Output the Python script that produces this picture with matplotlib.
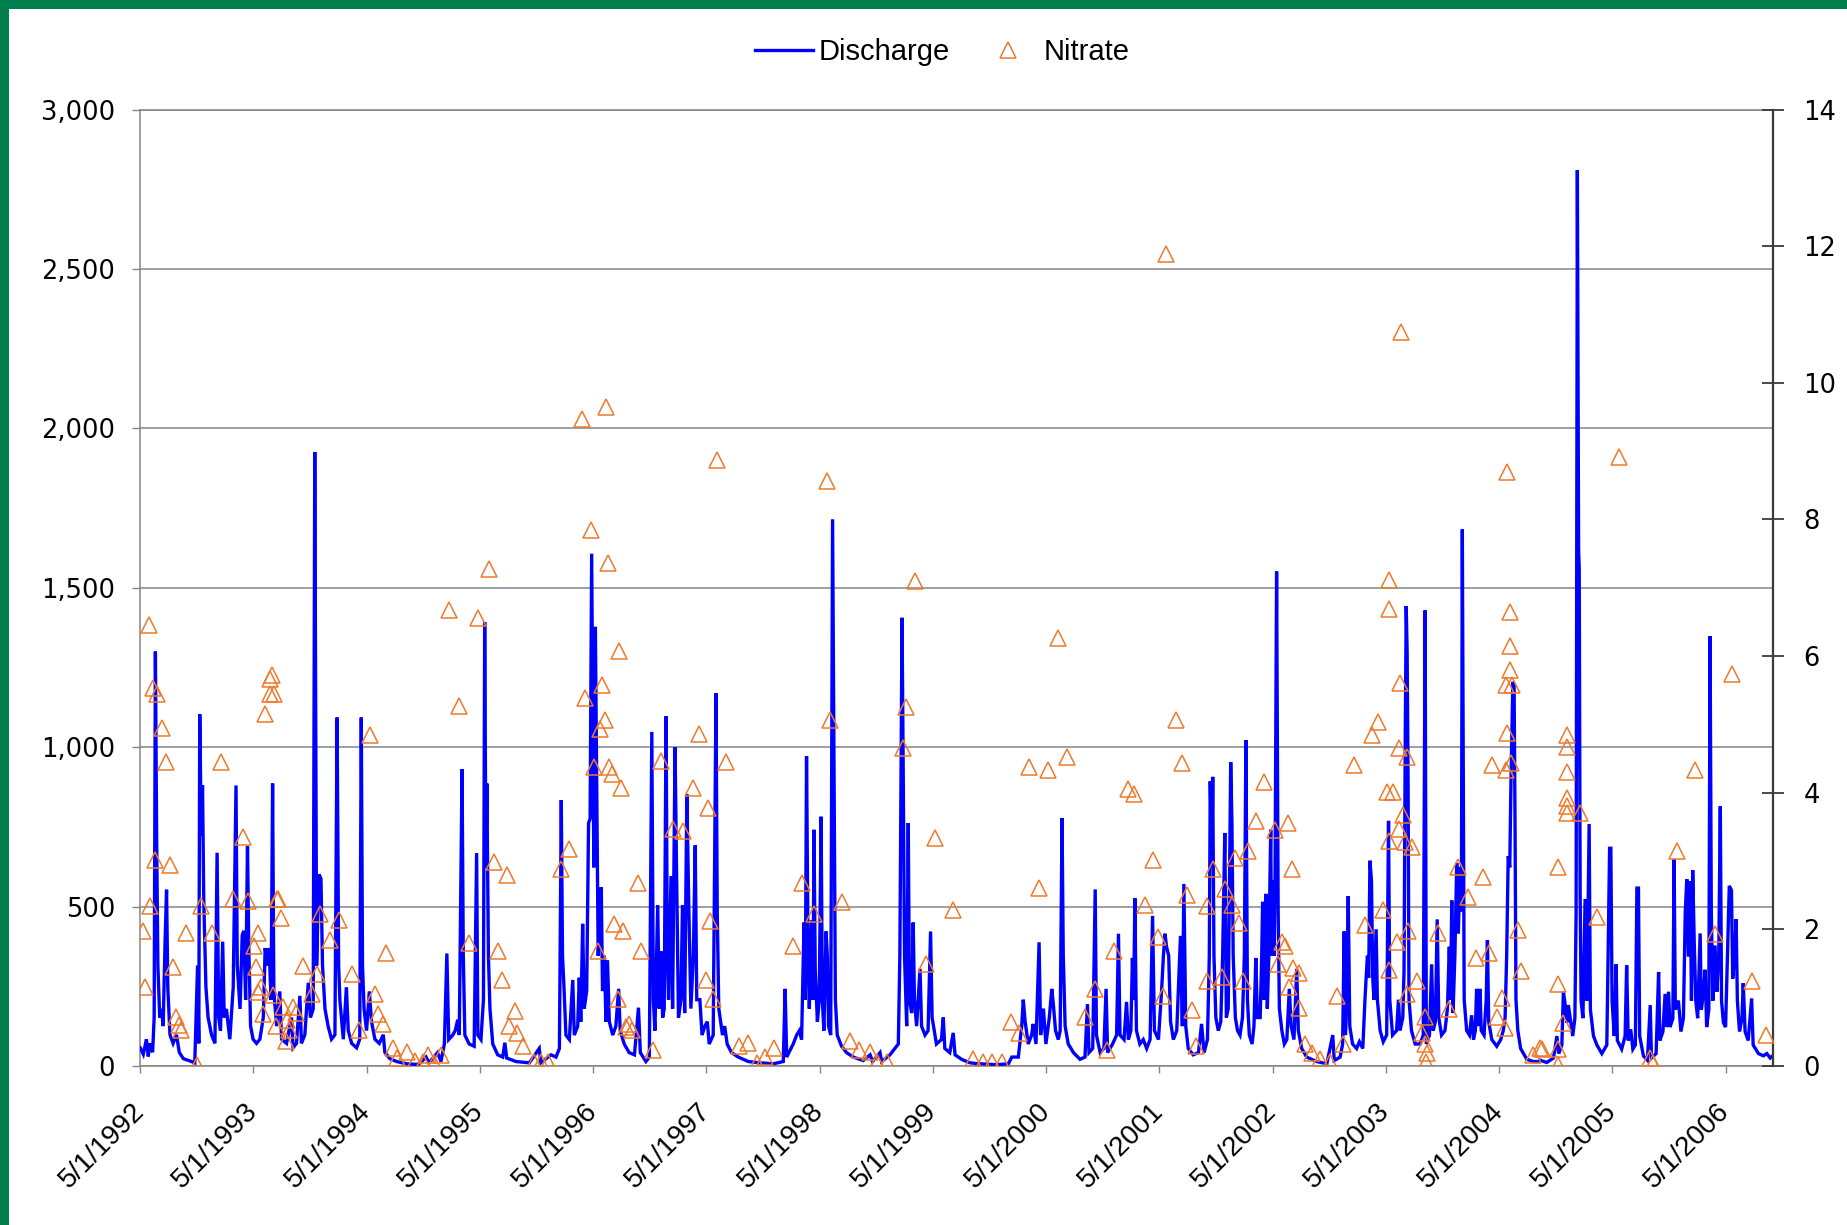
import numpy as np
import matplotlib
matplotlib.use("Agg")
import matplotlib.pyplot as plt
from matplotlib.ticker import MultipleLocator, FuncFormatter
from matplotlib.lines import Line2D
from matplotlib.patches import Rectangle

# Record runs from 1 May 1992; observations are given as days since that date.
record_start = np.datetime64("1992-05-01")
axis_end = np.datetime64("2006-09-30")

# Daily discharge, sampled at troughs and storm peaks
q_day = [
    0, 10, 20, 26, 31, 40, 45, 49, 53, 57, 63, 69, 74, 80, 85, 89, 96, 106, 117, 126,
    139, 160, 176, 185, 189, 192, 197, 201, 205, 212, 219, 230, 241, 248, 253, 259, 266, 271, 278, 289,
    300, 309, 313, 322, 329, 334, 340, 346, 350, 356, 364, 375, 386, 397, 403, 410, 416, 422, 427, 431,
    440, 450, 456, 472, 488, 493, 504, 515, 520, 531, 542, 549, 558, 563, 569, 574, 577, 583, 588, 596,
    606, 617, 628, 635, 640, 644, 655, 665, 671, 682, 698, 708, 713, 717, 722, 730, 739, 746, 757, 771,
    784, 789, 805, 827, 859, 891,
    900, 922, 932, 959, 970, 981, 989, 995, 1008, 1016, 1024, 1029, 1038, 1042, 1047, 1061, 1077, 1085, 1089, 1099,
    1107, 1111, 1115, 1118, 1123, 1128, 1137, 1153, 1169, 1176, 1182, 1212, 1255, 1287, 1292, 1325, 1341, 1352, 1358, 1362,
    1367, 1373, 1384, 1395, 1400, 1411, 1416, 1421, 1427, 1432, 1440, 1446, 1451, 1456, 1459, 1463, 1468, 1471, 1473, 1477,
    1481, 1487, 1491, 1497, 1502, 1507, 1513, 1524, 1534, 1543, 1548, 1561, 1577, 1594, 1607, 1613, 1631, 1642, 1650, 1655,
    1660, 1669, 1674, 1679, 1685, 1690, 1696, 1700, 1704, 1712, 1717, 1725, 1730, 1736, 1744, 1749, 1756, 1763, 1769, 1776,
    1784, 1790, 1795,
    1805, 1812, 1821, 1829, 1835, 1848, 1857, 1861, 1866, 1872, 1878, 1885, 1893, 1907, 1929, 1961, 1999, 2042, 2074, 2080,
    2085, 2106, 2117, 2126, 2133, 2141, 2145, 2149, 2154, 2158, 2165, 2170, 2173, 2177, 2184, 2190, 2196, 2200, 2205, 2212,
    2216, 2220, 2227, 2233, 2238, 2242, 2248, 2262, 2278, 2300, 2332, 2354, 2362, 2386, 2391, 2418, 2434, 2445, 2450, 2457,
    2461, 2465, 2472, 2477, 2481, 2488, 2493, 2497, 2504, 2515, 2520, 2531, 2541, 2549, 2554, 2568, 2584, 2590, 2595, 2611,
    2622, 2628, 2649, 2676, 2703,
    2708, 2762, 2800, 2811, 2832, 2843, 2848, 2854, 2864, 2875, 2880, 2889, 2899, 2904, 2913, 2921, 2932, 2940, 2945, 2952,
    2961, 2967, 2973, 2977, 2983, 2993, 3010, 3031, 3047, 3055, 3060, 3072, 3080, 3084, 3096, 3108, 3115, 3120, 3136, 3149,
    3155, 3160, 3173, 3181, 3187, 3195, 3200, 3204, 3208, 3213, 3224, 3235, 3246, 3257, 3265, 3271, 3284, 3294, 3300, 3305,
    3310, 3317, 3323, 3332, 3343, 3355, 3361, 3366, 3372, 3380, 3396, 3413, 3423, 3431, 3442, 3448, 3451, 3456, 3459, 3463,
    3469, 3477, 3485, 3491, 3498, 3503, 3509, 3517, 3521, 3525, 3532, 3539, 3547, 3555, 3561, 3566, 3571, 3577, 3586, 3592,
    3598, 3603,
    3612, 3617, 3620, 3625, 3631, 3635, 3640, 3646, 3649, 3652, 3657, 3660, 3665, 3670, 3674, 3682, 3690, 3698, 3706, 3712,
    3721, 3730, 3735, 3746, 3762, 3794, 3827, 3846, 3851, 3870, 3878, 3883, 3887, 3891, 3896, 3901, 3910, 3923, 3932, 3943,
    3950, 3953, 3958, 3962, 3966, 3971, 3975, 3979, 3986, 3990, 3999, 4009, 4020, 4026, 4030, 4039, 4052, 4058, 4063, 4072,
    4076, 4080, 4083, 4086, 4089, 4092, 4100, 4112, 4128, 4138, 4144, 4148, 4158, 4165, 4170, 4177, 4183, 4188, 4197, 4208,
    4216, 4222, 4226, 4230, 4234, 4240, 4246, 4251, 4257, 4261, 4264, 4267, 4270, 4278, 4287, 4294, 4300, 4306, 4310, 4315,
    4321, 4325, 4334, 4341, 4345, 4349, 4359, 4375, 4388, 4396, 4402, 4407, 4412, 4417, 4421, 4427, 4431, 4434, 4437, 4443,
    4452, 4472, 4493, 4513,
    4515, 4536, 4558, 4569, 4575, 4585, 4590, 4595, 4601, 4606, 4612, 4620, 4627, 4631, 4635, 4639, 4641, 4644, 4647, 4653,
    4660, 4666, 4673, 4677, 4687, 4698, 4714, 4730, 4736, 4739, 4743, 4747, 4754, 4760, 4764, 4778, 4789, 4794, 4799, 4807,
    4814, 4822, 4827, 4832, 4836, 4848, 4861, 4870, 4874, 4889, 4897, 4901, 4911, 4918, 4923, 4929, 4934, 4943, 4947, 4951,
    4961, 4969, 4977, 4983, 4988, 4993, 4999, 5003, 5007, 5012, 5017, 5023, 5031, 5035, 5042, 5047, 5052, 5059, 5063, 5067,
    5072, 5079, 5085, 5091, 5096, 5100, 5106, 5113, 5119, 5125, 5132, 5136, 5142, 5147, 5151, 5158, 5166, 5170, 5176, 5186,
    5197, 5202, 5219, 5235, 5246, 5257, 5265,
]
q_cfs = [
    57, 37, 84, 30, 71, 43, 152, 1300, 723, 315, 152, 179, 125, 383, 553, 247, 98, 71, 98, 43,
    23, 16, 10, 315, 71, 1103, 723, 880, 519, 247, 152, 98, 71, 669, 152, 111, 390, 152, 179, 84,
    247, 880, 315, 179, 410, 424, 207, 689, 383, 125, 84, 71, 84, 152, 370, 315, 370, 207, 886, 234,
    125, 234, 84, 71, 152, 57, 71, 220, 71, 98, 261, 152, 179, 1926, 315, 519, 601, 587, 315, 179,
    125, 84, 98, 1093, 315, 207, 84, 247, 111, 71, 57, 84, 1093, 315, 179, 111, 234, 139, 84, 71,
    98, 43, 23, 14, 7, 5,
    7, 28, 10, 42, 14, 69, 353, 83, 97, 111, 145, 97, 931, 346, 97, 69, 62, 668, 97, 83,
    208, 1392, 623, 886, 346, 180, 69, 35, 28, 73, 25, 14, 10, 55, 10, 35, 28, 55, 834, 346,
    242, 97, 83, 270, 97, 125, 277, 139, 446, 180, 235, 762, 776, 1607, 1177, 623, 1378, 1039, 831, 346,
    416, 561, 235, 346, 139, 332, 139, 97, 125, 242, 111, 69, 42, 35, 183, 42, 14, 28, 1048, 208,
    111, 505, 180, 360, 152, 180, 1097, 346, 208, 596, 180, 1000, 596, 152, 208, 505, 166, 852, 512, 180,
    346, 692, 208,
    208, 97, 125, 139, 69, 97, 1170, 485, 180, 139, 97, 125, 69, 42, 28, 14, 10, 7, 14, 242,
    28, 69, 97, 111, 83, 450, 208, 972, 346, 180, 457, 208, 741, 305, 139, 208, 782, 208, 111, 422,
    346, 125, 97, 1715, 900, 208, 97, 62, 42, 28, 17, 35, 14, 42, 14, 35, 55, 69, 346, 1406,
    900, 346, 125, 762, 208, 166, 450, 208, 125, 305, 125, 97, 111, 422, 152, 69, 83, 152, 55, 42,
    104, 35, 21, 10, 7,
    7, 4, 7, 28, 28, 125, 208, 139, 69, 97, 132, 69, 388, 97, 180, 69, 152, 242, 194, 111,
    83, 111, 778, 346, 125, 69, 42, 21, 28, 194, 42, 55, 554, 97, 42, 55, 242, 42, 69, 97,
    415, 97, 83, 201, 83, 111, 339, 208, 526, 111, 69, 83, 55, 83, 471, 111, 83, 235, 346, 415,
    374, 346, 139, 83, 111, 408, 125, 571, 125, 55, 35, 42, 132, 42, 83, 346, 893, 623, 907, 346,
    152, 111, 139, 346, 731, 152, 180, 953, 762, 346, 152, 111, 97, 152, 346, 1022, 208, 97, 69, 125,
    339, 152,
    152, 346, 515, 208, 540, 180, 346, 741, 346, 582, 346, 589, 1551, 485, 180, 111, 69, 83, 242, 125,
    83, 305, 111, 55, 28, 14, 7, 97, 17, 28, 69, 422, 97, 180, 533, 125, 69, 55, 76, 55,
    208, 263, 346, 277, 644, 582, 277, 208, 429, 208, 111, 76, 97, 769, 208, 97, 111, 208, 111, 152,
    298, 1039, 1443, 1299, 900, 208, 111, 69, 69, 97, 1429, 69, 97, 319, 111, 139, 460, 152, 97, 111,
    180, 374, 208, 519, 166, 346, 637, 416, 623, 485, 1683, 900, 208, 111, 97, 159, 83, 111, 242, 125,
    242, 111, 97, 208, 395, 139, 83, 62, 83, 111, 152, 346, 658, 623, 900, 1205, 1191, 762, 208, 111,
    55, 21, 14, 14,
    18, 11, 25, 94, 39, 66, 233, 198, 136, 191, 150, 94, 150, 482, 2810, 1620, 1560, 537, 205, 150,
    524, 205, 759, 177, 94, 66, 39, 66, 482, 683, 683, 205, 94, 319, 80, 53, 94, 316, 80, 115,
    53, 66, 558, 558, 94, 32, 18, 191, 25, 39, 295, 80, 108, 226, 122, 233, 122, 150, 648, 177,
    205, 108, 150, 482, 586, 343, 579, 205, 614, 385, 205, 150, 416, 177, 233, 302, 122, 177, 1348, 482,
    205, 378, 233, 343, 814, 205, 136, 122, 343, 565, 551, 274, 343, 461, 205, 108, 150, 260, 108, 80,
    212, 66, 39, 32, 39, 25, 32,
]

# Nitrate grab samples
n_day = [
    28, 40, 55, 69, 82, 47, 96, 33, 8, 15, 106, 115, 126, 133, 182, 147, 196, 230, 260, 298,
    332, 348, 381, 367, 373, 381, 391, 397, 402, 418, 431, 418, 424, 440, 445, 453, 429, 438, 459, 472,
    481, 470, 493, 502, 526, 553, 569, 579, 612, 642, 682, 706, 741, 757, 768, 782, 794, 816, 827, 859,
    886,
    911, 927, 948, 970, 997, 1027, 1090, 1126, 1061, 1142, 1182, 1153, 1167, 1210, 1190, 1214, 1233, 1271, 1292, 1314,
    1357, 1384, 1425, 1502, 1454, 1510, 1545, 1436, 1489, 1498, 1484, 1465, 1513, 1522, 1551, 1475, 1529, 1556, 1604, 1615,
    1540, 1567, 1577, 1586, 1653, 1680, 1717, 1752, 1782, 1801,
    1861, 2214, 2499, 1889, 1832, 2225, 2470, 2459, 2563, 2622, 2133, 2173, 2262, 2106, 1838, 1825, 1846, 2534, 1932, 1961,
    1988, 2015, 2044, 2289, 2319, 2353, 2375, 2407, 2687,
    2719, 2746, 2778, 2807, 2835, 2868, 2927, 2990, 2961, 2899, 3047, 3079, 3141, 3117, 3187, 3205, 3268, 3241, 3284, 3298,
    3341, 3361, 3375, 3391, 3405, 3440, 3459, 3499, 3520, 3531, 3545, 3574, 3598, 3442, 3488, 3558, 3309,
    3625, 3660, 3703, 3714, 3682, 3693, 3671, 3719, 3738, 3706, 3738, 3757, 3778, 3805, 3837, 3861, 3880, 3915, 3972, 3993,
    3950, 4007, 4026, 4026, 4063, 4061, 4085, 4020, 4042, 4074, 4061, 4079, 4101, 4026, 4052, 4090, 4117, 4085, 4026, 4144,
    4133, 4144, 4149, 4147, 4222, 4187, 4251, 4283, 4332, 4308, 4351, 4407, 4418, 4418, 4418, 4405, 4423, 4407, 4359, 4421,
    4405, 4445, 4453, 4391, 4377, 4402, 4493, 4513, 4065,
    4520, 4571, 4574, 4574, 4571, 4588, 4601, 4601, 4603, 4601, 4603, 4603, 4642, 4698, 4768, 4956, 5015, 5079, 5133, 5198,
    5244, 4870, 4880,
]
n_mgl = [
    6.45, 5.53, 5.45, 4.95, 4.45, 3.02, 2.94, 2.34, 1.97, 1.15, 1.45, 0.71, 0.60, 0.53, 0.01, 1.95, 2.34, 1.95, 4.45, 2.45,
    3.35, 2.42, 1.95, 1.76, 1.45, 1.09, 1.15, 0.76, 5.15, 5.45, 5.45, 5.66, 5.73, 2.45, 2.45, 2.16, 1.04, 0.58, 0.87, 0.68,
    0.52, 0.36, 0.87, 0.77, 1.46, 1.06, 1.34, 2.23, 1.85, 2.14, 1.34, 0.52, 4.84, 1.06, 0.76, 0.62, 1.66, 0.27, 0.11, 0.20,
    0.08,
    0.06, 0.16, 0.05, 0.16, 6.67, 5.27, 6.56, 7.27, 1.80, 2.99, 2.79, 1.69, 1.26, 0.81, 0.58, 0.48, 0.29, 0.06, 0.06, 0.06,
    2.88, 3.18, 9.47, 9.64, 7.85, 7.37, 6.08, 5.38, 5.57, 5.07, 4.94, 4.38, 4.38, 4.28, 4.07, 1.68, 2.08, 1.98, 2.68, 1.68,
    0.98, 0.57, 0.61, 0.53, 0.23, 4.47, 3.47, 3.44, 4.07, 4.86,
    8.87, 8.56, 7.10, 4.45, 3.78, 5.06, 5.25, 4.65, 3.34, 2.28, 2.68, 2.23, 2.40, 1.75, 2.12, 1.26, 0.98, 1.49, 0.29, 0.34,
    0.05, 0.13, 0.27, 0.37, 0.23, 0.21, 0.06, 0.06, 0.10,
    0.06, 0.06, 0.06, 0.65, 0.48, 4.38, 4.33, 4.52, 6.27, 2.60, 0.72, 1.13, 1.68, 0.23, 4.06, 3.98, 3.02, 2.35, 1.89, 1.03,
    5.07, 4.43, 2.50, 0.82, 0.29, 2.34, 2.89, 2.59, 2.36, 3.05, 2.10, 3.14, 3.59, 1.24, 1.31, 1.24, 11.88,
    4.15, 3.46, 3.56, 2.88, 1.82, 1.76, 1.49, 1.43, 1.36, 1.15, 0.85, 0.32, 0.19, 0.10, 0.06, 1.03, 0.32, 4.40, 4.85, 5.04,
    2.07, 2.29, 7.11, 6.69, 5.61, 4.65, 4.52, 4.01, 4.01, 3.68, 3.47, 3.28, 3.20, 3.30, 1.81, 1.97, 1.24, 1.05, 1.40, 0.72,
    0.48, 0.32, 0.19, 0.06, 0.84, 1.94, 2.91, 2.47, 2.77, 1.58, 1.65, 8.70, 6.64, 6.15, 5.79, 5.57, 5.57, 4.88, 4.40, 4.43,
    4.33, 1.99, 1.39, 1.00, 0.71, 0.55, 0.16, 0.26, 10.74,
    0.25, 0.25, 0.02, 2.91, 1.20, 0.63, 4.85, 4.67, 4.31, 3.93, 3.80, 3.70, 3.70, 2.18, 8.91, 3.14, 4.33, 1.93, 5.74, 1.25,
    0.45, 0.12, 0.05,
]

tick_years = list(range(1992, 2007))
tick_labels = [f"5/1/{y}" for y in tick_years]
legend_labels = ["Discharge", "Nitrate"]

BLUE = "#0000FF"
ORANGE = "#EE7A2C"
GRID = "#858585"
FRAME_GREEN = "#007F4E"

q_dates = record_start + np.asarray(q_day).astype("timedelta64[D]")
n_dates = record_start + np.asarray(n_day).astype("timedelta64[D]")
tick_dates = [np.datetime64(f"{y}-05-01") for y in tick_years]

W, H = 1847, 1225
fig = plt.figure(figsize=(W / 100, H / 100), dpi=100, facecolor="white")

# green frame along the top and left edges
fig.add_artist(Rectangle((0, 1 - 9 / H), 1, 9 / H, transform=fig.transFigure,
                         facecolor=FRAME_GREEN, edgecolor="none", zorder=10))
fig.add_artist(Rectangle((0, 0), 9 / W, 1, transform=fig.transFigure,
                         facecolor=FRAME_GREEN, edgecolor="none", zorder=10))

left, right = 140.2 / W, 1772.7 / W
bottom, top = 1 - 1066 / H, 1 - 109.6 / H
ax = fig.add_axes([left, bottom, right - left, top - bottom])
ax2 = ax.twinx()

ax.plot(q_dates, q_cfs, color=BLUE, lw=2.4, solid_joinstyle="miter", zorder=3)
ax2.plot(n_dates, n_mgl, ls="none", marker="^", ms=11.5, mfc="none", mec=ORANGE, mew=1.1, zorder=4)

ax.set_xlim(record_start, axis_end)
ax.set_ylim(0, 3000)
ax2.set_ylim(0, 14)

ax.yaxis.set_major_locator(MultipleLocator(500))
ax.yaxis.set_major_formatter(FuncFormatter(lambda v, p: f"{v:,.0f}"))
ax2.yaxis.set_major_locator(MultipleLocator(2))

ax.grid(axis="y", color=GRID, lw=1.1)
ax.set_axisbelow(True)

ax.set_xticks(tick_dates)
ax.set_xticklabels(tick_labels, rotation=45, ha="right", va="center",
                   rotation_mode="anchor", fontfamily="Liberation Sans", fontsize=20)

ax.tick_params(axis="y", direction="out", length=6, width=1.0, color=GRID,
               pad=12, labelsize=18.5, labelcolor="black")
ax.tick_params(axis="x", direction="out", length=5, width=1.0, color=GRID, pad=25)
ax2.tick_params(axis="y", direction="inout", length=16, width=1.3, color="#3A3A3A",
                pad=14, labelsize=18.5, labelcolor="black")

for s in ("top", "left", "bottom"):
    ax.spines[s].set_color(GRID)
    ax.spines[s].set_linewidth(1.1)
ax.spines["right"].set_visible(False)
for s in ("top", "left", "bottom"):
    ax2.spines[s].set_visible(False)
ax2.spines["right"].set_color("#3A3A3A")
ax2.spines["right"].set_linewidth(1.6)

handles = [
    Line2D([], [], color=BLUE, lw=2.4),
    Line2D([], [], ls="none", marker="^", ms=11.5, mfc="none", mec=ORANGE, mew=1.1),
]
fig.legend(handles, legend_labels, loc="center", bbox_to_anchor=(0.51, 1 - 52 / H),
           ncol=2, frameon=False, prop={"family": "Liberation Sans", "size": 21},
           handlelength=2.0, handletextpad=0.2, columnspacing=1.0)

fig.savefig("out.png", dpi=100, facecolor="white")
